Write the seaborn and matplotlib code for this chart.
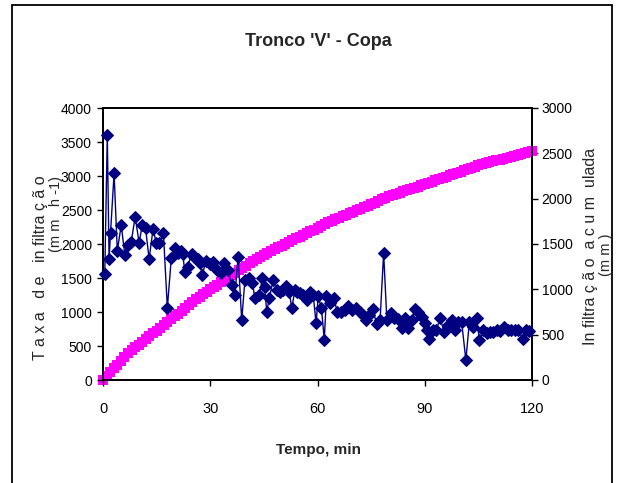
import matplotlib
matplotlib.use("Agg")
import matplotlib.pyplot as plt
from matplotlib import font_manager
from matplotlib.patches import Rectangle
import seaborn as sns
import pandas as pd

# Infiltration rate (mm h-1) measured over time (min)
tempo_taxa = [0.5, 1.2, 1.7, 2.1, 3.1, 4.0, 5.1, 6.1, 7.0, 7.9, 9.0, 10.1, 11.0, 11.9, 12.9,
              14.0, 14.9, 15.8, 16.9, 18.0, 19.1, 20.0, 20.9, 21.8, 22.3, 22.9, 23.7, 24.8,
              25.5, 26.5, 27.1, 27.8, 28.8, 29.8, 30.9, 32.0, 33.0, 33.9, 34.9, 36.0, 36.9,
              37.8, 38.8, 39.7, 40.9, 41.8, 42.5, 43.7, 44.6, 45.2, 45.8, 46.5, 47.6, 48.6,
              49.5, 50.4, 51.3, 52.1, 52.8, 53.7, 54.4, 55.1, 56.0, 57.0, 57.9, 58.8, 59.6,
              60.2, 61.1, 61.9, 62.5, 63.5, 64.6, 65.5, 66.5, 67.6, 68.6, 69.7, 70.8, 71.8,
              72.8, 73.7, 74.5, 75.4, 76.6, 77.5, 78.5, 79.4, 80.5, 81.4, 82.4, 83.5, 84.5,
              85.4, 86.3, 87.3, 88.2, 89.1, 90.1, 90.6, 91.3, 92.2, 93.2, 94.3, 95.4, 96.6,
              97.5, 98.5, 99.4, 100.3, 101.5, 102.5, 103.6, 104.5, 105.3, 106.4, 107.3,
              108.2, 109.1, 110.1, 111.1, 112.2, 113.2, 114.2, 115.2, 116.2, 117.4, 118.3,
              119.3]
taxa = [1560, 3600, 1780, 2160, 3040, 1900, 2280, 1840, 1985, 2035, 2400, 2020, 2280, 2235, 1780,
        2220, 2020, 2020, 2160, 1060, 1790, 1935, 1870, 1890, 1850, 1590, 1665, 1860,
        1815, 1775, 1715, 1545, 1755, 1700, 1740, 1620, 1570, 1715, 1620, 1400, 1250,
        1815, 880, 1470, 1495, 1420, 1200, 1250, 1495, 1370, 1005, 1200, 1470, 1325,
        1300, 1330, 1380, 1300, 1055, 1325, 1300, 1275, 1250, 1175, 1300, 1250, 835,
        1230, 1055, 590, 1230, 1130, 1200, 1005, 1005, 1030, 1090, 1030, 1055, 1000,
        955, 880, 950, 1040, 820, 880, 1870, 880, 980, 905, 900, 760, 905,
        760, 880, 1040, 1005, 930, 835, 735, 600, 735, 735, 905, 710, 810,
        880, 735, 860, 860, 295, 860, 785, 905, 590, 735, 685,
        710, 700, 735, 720, 785, 740, 735, 735, 735, 600, 735,
        725]

# Accumulated infiltration (mm), one reading per minute
tempo_acum = list(range(0, 121))
acumulada = [0, 43, 85, 128, 170, 213, 255, 298, 329, 360, 391, 421, 452, 483, 514, 545, 576,
             607, 638, 670, 701, 733, 765, 796, 828, 860, 890, 918, 945, 972, 999, 1026,
             1053, 1080, 1107, 1134, 1160, 1185, 1210, 1235, 1260, 1285, 1310, 1335, 1360,
             1383, 1403, 1423, 1443, 1463, 1483, 1503, 1522, 1541, 1561, 1581, 1600, 1620,
             1640, 1659, 1679, 1699, 1718, 1738, 1756, 1773, 1789, 1806, 1822, 1839, 1855,
             1872, 1888, 1905, 1922, 1939, 1956, 1973, 1991, 2008, 2025, 2039, 2052, 2066,
             2080, 2093, 2107, 2121, 2134, 2148, 2162, 2175, 2189, 2202, 2216, 2230, 2243,
             2257, 2270, 2284, 2297, 2311, 2325, 2338, 2352, 2366, 2378, 2389, 2400, 2410,
             2421, 2431, 2442, 2452, 2463, 2473, 2484, 2494, 2504, 2515, 2525]

x_ticks = [0, 30, 60, 90, 120]
y_left_ticks = [0, 500, 1000, 1500, 2000, 2500, 3000, 3500, 4000]
y_right_ticks = [0, 500, 1000, 1500, 2000, 2500, 3000]

sns.set_theme(style="white")
names = {f.name for f in font_manager.fontManager.ttflist}
narrow = "Liberation Sans Narrow" if "Liberation Sans Narrow" in names else "Liberation Sans"
plt.rcParams["font.family"] = [narrow, "DejaVu Sans"]

df_taxa = pd.DataFrame({"tempo": tempo_taxa, "taxa": taxa})
df_acum = pd.DataFrame({"tempo": tempo_acum, "acumulada": acumulada})

fig = plt.figure(figsize=(6.18, 4.83), dpi=100)
ax = fig.add_axes([103 / 618, 1 - 380 / 483, (532 - 103) / 618, (380 - 108) / 483])
ax2 = ax.twinx()

sns.scatterplot(data=df_acum, x="tempo", y="acumulada", ax=ax2, marker="s", s=52,
                color="#FF00FF", edgecolor="#FF00FF", linewidth=0, clip_on=False, zorder=3)
sns.lineplot(data=df_taxa, x="tempo", y="taxa", ax=ax, color="#000080", linewidth=1.0,
             marker="D", markersize=5.8, markeredgecolor="#000080", clip_on=False, zorder=4)

ax.set_zorder(ax2.get_zorder() + 1)
ax.patch.set_visible(False)

ax.set_xlim(0, 120)
ax.set_ylim(0, 4000)
ax2.set_ylim(0, 3000)
ax.set_xticks(x_ticks)
ax.set_yticks(y_left_ticks)
ax2.set_yticks(y_right_ticks)
ax.set_xlabel("")
ax.set_ylabel("")
ax2.set_ylabel("")

for a in (ax, ax2):
    for sp in a.spines.values():
        sp.set_color("black")
        sp.set_linewidth(1.3)
ax.tick_params(axis="x", direction="out", length=4, width=1, pad=12, labelsize=10.5, colors="black")
ax.tick_params(axis="y", direction="out", length=4, width=1, pad=4, labelsize=10, colors="black",
               left=True)
ax2.tick_params(axis="y", direction="out", length=4, width=1, pad=3, labelsize=10, colors="black",
                right=True)
ax.xaxis.set_ticks_position("bottom")

fig.text(318 / 618, 1 - 42 / 483, "Tronco 'V' - Copa", ha="center", va="center",
         fontsize=13, fontweight="bold")
fig.text(318 / 618, 1 - 450 / 483, "Tempo, min", ha="center", va="center",
         fontsize=11, fontweight="bold")

fig.text(41 / 618, 1 - 268 / 483, "T a x a   d e   in filtra ç ã o", rotation=90,
         ha="center", va="center", fontsize=11.5)
fig.text(56 / 618, 1 - 214 / 483, "(m m   h -1)", rotation=90,
         ha="center", va="center", fontsize=10.5)
fig.text(590 / 618, 1 - 246 / 483, "In filtra ç ã o  a c u m  ulada", rotation=90,
         ha="center", va="center", fontsize=11.5)
fig.text(606 / 618, 1 - 255 / 483, "(m m )", rotation=90,
         ha="center", va="center", fontsize=10.5)

fig.patches.append(Rectangle((12 / 618, -0.05), 600 / 618, 1.05 - 5 / 483,
                             transform=fig.transFigure, fill=False, edgecolor="black",
                             linewidth=1.3, clip_on=False))

fig.savefig("out.png", dpi=100)
